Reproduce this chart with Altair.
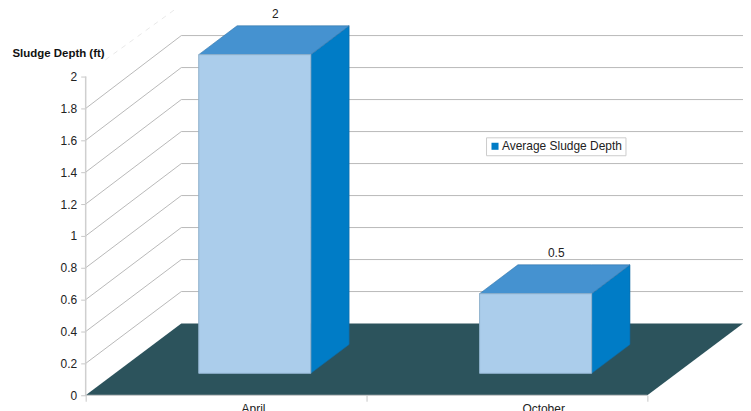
import altair as alt
import pandas as pd

categories = ["April", "October"]
values = [2, 0.5]
series_name = "Average Sludge Depth"
y_ticks = [0, 0.2, 0.4, 0.6, 0.8, 1, 1.2, 1.4, 1.6, 1.8, 2]
x_ticks = [0, 1, 2]

FONT = "Liberation Sans"
# scale units: one category on x, one foot on y
WALL_DX, WALL_DY = 96 / 282, 0.45
WALL_STRETCH = 1.004
BAR_DX, BAR_DY = 38.5 / 282, 29 / 160
BAR_START, BAR_W, BAR_BASE = 0.4025, 0.399, 0.1375
X_MAX, Y_MAX = 660 / 282, 388 / 160

xs = alt.Scale(domain=[0, X_MAX], nice=False, zero=False)
ys = alt.Scale(domain=[0, Y_MAX], nice=False, zero=False)

x_axis = alt.Axis(values=x_ticks, labels=False, domain=False, grid=False, ticks=True,
                  tickColor="#c8c8c8", tickSize=6, tickWidth=1, title=None)
y_axis = alt.Axis(values=y_ticks, format=".1~f", domain=False, grid=False,
                  tickColor="#c8c8c8", tickSize=5, tickWidth=1, labelPadding=4,
                  labelFont=FONT, labelFontSize=12, labelColor="#222222",
                  title="Sludge Depth (ft)", titleFont=FONT, titleFontSize=11.5,
                  titleFontWeight="bold", titleColor="#111111", titleAngle=0,
                  titleAlign="left", titleBaseline="middle", titleX=-74, titleY=45)


def X(field="x"):
    return alt.X(f"{field}:Q", scale=xs, axis=x_axis)


def Y(field="y"):
    return alt.Y(f"{field}:Q", scale=ys, axis=y_axis)


GRID = "#b8b8b8"
grid_vals = [v for v in y_ticks if 0 < v < 2]
wall_vals = [v * WALL_STRETCH + WALL_DY for v in grid_vals]
back = pd.DataFrame({"y": wall_vals}).assign(x=WALL_DX, x2=X_MAX)
slant = pd.DataFrame({"y": grid_vals, "y2": wall_vals}).assign(x=0, x2=WALL_DX)

back_rules = alt.Chart(back).mark_rule(color=GRID, strokeWidth=1).encode(x=X(), x2="x2:Q", y=Y())
slant_rules = alt.Chart(slant).mark_rule(color=GRID, strokeWidth=1).encode(
    x=X(), x2="x2:Q", y=Y(), y2="y2:Q")
faint = alt.Chart(pd.DataFrame({"x": [0.07], "x2": [WALL_DX], "y": [2.105], "y2": [2 + WALL_DY]})).mark_rule(
    color="#e8e8e8", strokeWidth=1, strokeDash=[5, 5]).encode(x=X(), x2="x2:Q", y=Y(), y2="y2:Q")

floor = alt.Chart(pd.DataFrame({
    "x": [0, WALL_DX, x_ticks[-1], X_MAX],
    "y": [0, 0, 0, WALL_DY],
    "y2": [0, WALL_DY, WALL_DY, WALL_DY],
})).mark_area(color="#2c535c", interpolate="linear").encode(x=X(), y=Y(), y2="y2:Q")

y_line = alt.Chart(pd.DataFrame({"x": [0], "y": [0], "y2": [2]})).mark_rule(
    color="#cfcfcf", strokeWidth=1.5).encode(x=X(), y=Y(), y2="y2:Q")
x_line = alt.Chart(pd.DataFrame({"x": [0], "x2": [x_ticks[-1]], "y": [0]})).mark_rule(
    color="#c8c8c8", strokeWidth=1).encode(x=X(), x2="x2:Q", y=Y())

front_rows, side_rows, top_rows, value_rows, label_rows = [], [], [], [], []
for i, (c, v) in enumerate(zip(categories, values)):
    x0 = i + BAR_START
    x1 = x0 + BAR_W
    top = BAR_BASE + v
    front_rows.append({"cat": c, "x": x0, "x2": x1, "y": BAR_BASE, "y2": top})
    side_rows += [
        {"cat": c, "series": series_name, "x": x1, "y": BAR_BASE, "y2": top},
        {"cat": c, "series": series_name, "x": x1 + BAR_DX, "y": BAR_BASE + BAR_DY, "y2": top + BAR_DY},
    ]
    top_rows += [
        {"cat": c, "x": x0, "y": top, "y2": top},
        {"cat": c, "x": x0 + BAR_DX, "y": top, "y2": top + BAR_DY},
        {"cat": c, "x": x1, "y": top, "y2": top + BAR_DY},
        {"cat": c, "x": x1 + BAR_DX, "y": top + BAR_DY, "y2": top + BAR_DY},
    ]
    value_rows.append({"x": (x0 + x1) / 2 + BAR_DX / 2, "y": top + BAR_DY, "t": f"{v:g}"})
    label_rows.append({"x": i + 0.555, "y": 0, "t": c})

front = alt.Chart(pd.DataFrame(front_rows)).mark_rect(
    color="#abcdeb", stroke="#8fb0cc", strokeWidth=1).encode(x=X(), x2="x2:Q", y=Y(), y2="y2:Q")
side = alt.Chart(pd.DataFrame(side_rows)).mark_area(interpolate="linear", stroke="#0f6aa3", strokeWidth=0.6).encode(
    x=X(), y=Y(), y2="y2:Q", detail="cat:N",
    color=alt.Color("series:N", scale=alt.Scale(domain=[series_name], range=["#007cc6"]),
                    legend=alt.Legend(orient="none", legendX=402, legendY=129, title=None,
                                      fillColor="white", strokeColor="#cccccc", padding=3,
                                      symbolType="square", symbolSize=50, symbolStrokeWidth=0,
                                      labelFont=FONT, labelFontSize=12, labelColor="#222222",
                                      labelOffset=1)),
)
top_face = alt.Chart(pd.DataFrame(top_rows)).mark_area(
    color="#4592d0", interpolate="linear", stroke="#2f73a8", strokeWidth=0.6).encode(
    x=X(), y=Y(), y2="y2:Q", detail="cat:N")

value_text = alt.Chart(pd.DataFrame(value_rows)).mark_text(
    font=FONT, fontSize=12, color="#222222", dy=-12, dx=1.5, baseline="middle").encode(
    x=X(), y=Y(), text="t:N")
cat_text = alt.Chart(pd.DataFrame(label_rows)).mark_text(
    font=FONT, fontSize=12, color="#222222", align="left", baseline="top", dy=9).encode(
    x=X(), y=Y(), text="t:N")

chart = alt.layer(
    back_rules, slant_rules, faint, floor, y_line, x_line,
    side, top_face, front, value_text, cat_text,
).properties(
    width=660, height=388,
    padding={"left": 78, "top": 0, "right": 0, "bottom": 24},
    autosize=alt.AutoSizeParams(type="none"),
).configure_view(stroke=None)

chart.save("out.html", embed_options={"renderer": "svg", "actions": False})
